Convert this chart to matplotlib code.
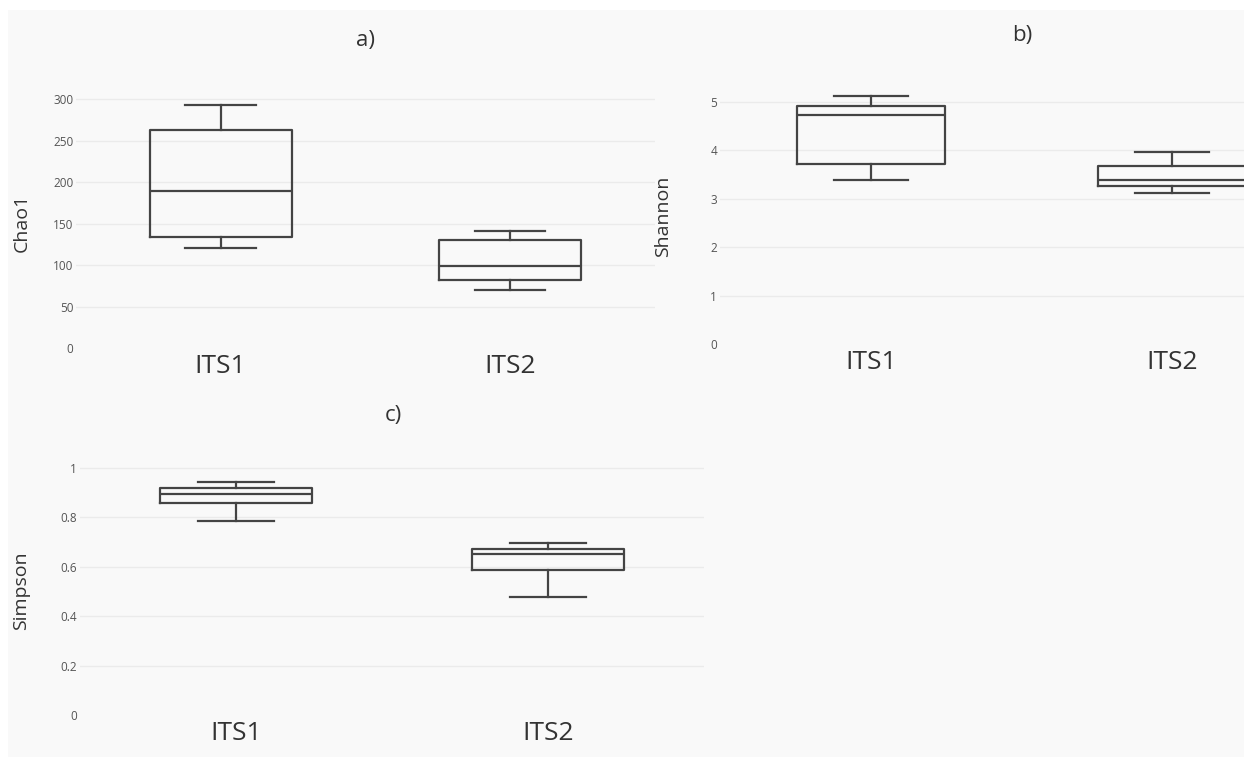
import matplotlib
matplotlib.use("Agg")
import matplotlib.pyplot as plt
from matplotlib.patches import Rectangle

plt.rcParams['font.family'] = ['Open Sans', 'DejaVu Sans']

categories = ["ITS1", "ITS2"]

# Box statistics: lower whisker, Q1, median, Q3, upper whisker
chao1_whislo = [121.2, 69.9]
chao1_q1 = [133.7, 82.3]
chao1_med = [189.9, 98.8]
chao1_q3 = [263.4, 130.8]
chao1_whishi = [292.8, 141.0]

shannon_whislo = [3.39, 3.11]
shannon_q1 = [3.72, 3.26]
shannon_med = [4.73, 3.38]
shannon_q3 = [4.92, 3.68]
shannon_whishi = [5.12, 3.955]

simpson_whislo = [0.783, 0.476]
simpson_q1 = [0.859, 0.587]
simpson_med = [0.892, 0.653]
simpson_q3 = [0.917, 0.671]
simpson_whishi = [0.941, 0.696]

chao1_ticks = [0, 50, 100, 150, 200, 250, 300]
shannon_ticks = [0, 1, 2, 3, 4, 5]
simpson_ticks = [0, 0.2, 0.4, 0.6, 0.8, 1]
simpson_ticklabels = ["0", "0.2", "0.4", "0.6", "0.8", "1"]

W, H = 1244, 761
fig = plt.figure(figsize=(W / 100, H / 100), dpi=100)
fig.patch.set_facecolor('white')
fig.add_artist(Rectangle((8 / W, 1 - 757 / H), (W - 8) / W, (757 - 10) / H,
                         transform=fig.transFigure, facecolor='#f9f9f9',
                         edgecolor='none', zorder=-10))

LINE = '#444444'
GRID = '#ebebeb'
TICK = '#555555'


def px_axes(left, right, top, bottom):
    return fig.add_axes([left / W, 1 - bottom / H, (right - left) / W, (bottom - top) / H])


def panel(ax, lo, q1, med, q3, hi, ylim, ticks, ticklabels, title, title_xy, ylabel, ylabel_xy):
    stats = []
    for i, c in enumerate(categories):
        stats.append(dict(label=c, whislo=lo[i], q1=q1[i], med=med[i], q3=q3[i],
                          whishi=hi[i], fliers=[]))
    lp = dict(color=LINE, linewidth=1.6)
    ax.bxp(stats, positions=[0, 1], widths=0.49, showfliers=False,
           boxprops=lp, whiskerprops=lp, capprops=lp, medianprops=lp,
           capwidths=0.245)
    ax.set_xlim(-0.5, 1.5)
    ax.set_ylim(*ylim)
    ax.set_facecolor('none')
    for s in ax.spines.values():
        s.set_visible(False)
    ax.set_yticks(ticks)
    ax.set_yticklabels(ticklabels)
    ax.set_xticks([0, 1])
    ax.set_xticklabels(categories)
    ax.tick_params(axis='y', length=0, pad=2, labelsize=8.5, labelcolor=TICK)
    ax.tick_params(axis='x', length=0, pad=4, labelsize=19, labelcolor='#333333')
    for t in ticks:
        if t != 0:
            ax.axhline(t, color=GRID, linewidth=1.0, zorder=0)
    fig.text(title_xy[0] / W, 1 - title_xy[1] / H, title, ha='center', va='center',
             fontsize=16, color='#333333')
    fig.text(ylabel_xy[0] / W, 1 - ylabel_xy[1] / H, ylabel, ha='center', va='center',
             rotation=90, fontsize=14, color='#333333')


# panel a
ax_a = px_axes(76, 654.7, 348.3 - 305 * 0.830, 348.3)
panel(ax_a, chao1_whislo, chao1_q1, chao1_med, chao1_q3, chao1_whishi,
      (0, 305), chao1_ticks, [str(t) for t in chao1_ticks],
      "a)", (365.5, 40.5), "Chao1", (22, 222.5))

# panel b
ax_b = px_axes(720, 1323, 344 - 5.2 * 48.47, 344)
panel(ax_b, shannon_whislo, shannon_q1, shannon_med, shannon_q3, shannon_whishi,
      (0, 5.2), shannon_ticks, [str(t) for t in shannon_ticks],
      "b)", (1022.5, 36), "Shannon", (663.5, 216.7))

# panel c
ax_c = px_axes(80, 704, 715 - 1.03 * 247.3, 715)
panel(ax_c, simpson_whislo, simpson_q1, simpson_med, simpson_q3, simpson_whishi,
      (0, 1.03), simpson_ticks, simpson_ticklabels,
      "c)", (393, 415), "Simpson", (21, 591))

fig.savefig("out.png", dpi=100, facecolor=fig.get_facecolor())
